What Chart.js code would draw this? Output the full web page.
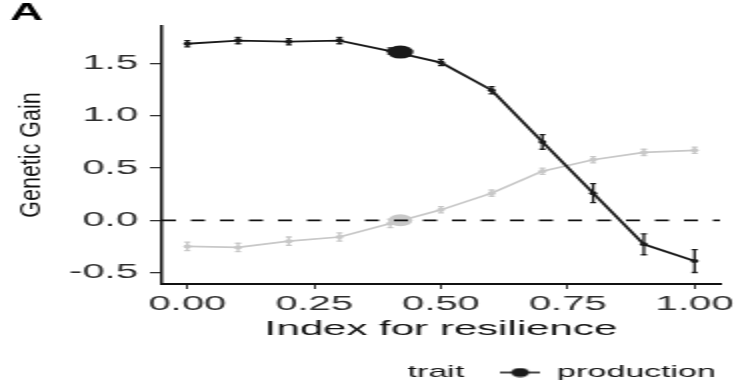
<!DOCTYPE html>
<html>
<head>
<meta charset="utf-8">
<script src="https://cdn.jsdelivr.net/npm/chart.js@4.4.1/dist/chart.umd.min.js"></script>
<style>
  html, body { margin: 0; padding: 0; background: #fff; overflow: hidden; }
  /* the plot is laid out narrow and widened 2x */
  #grafico { display: block; transform: scaleX(2); transform-origin: 0 0; }
</style>
</head>
<body>
<canvas id="grafico" width="376" height="391"></canvas>
<script>
// -------- DATA --------
const resilienceIndex = [0, 0.1, 0.2, 0.3, 0.4, 0.5, 0.6, 0.7, 0.8, 0.9, 1.0];

const productionGain = [1.69, 1.72, 1.71, 1.72, 1.62, 1.51, 1.245, 0.75, 0.26, -0.23, -0.39];
const productionSE   = [0.03, 0.03, 0.03, 0.03, 0.03, 0.03, 0.035, 0.07, 0.09, 0.10, 0.11];

const resilienceGain = [-0.25, -0.26, -0.20, -0.16, -0.03, 0.10, 0.26, 0.47, 0.58, 0.65, 0.67];
const resilienceSE   = [0.04, 0.04, 0.04, 0.04, 0.04, 0.03, 0.03, 0.03, 0.03, 0.03, 0.03];

// chosen index (big dots)
const optimumIndex = 0.42;
const optimumProduction = 1.61;
const optimumResilience = 0.0;

const xTicks = [0, 0.25, 0.5, 0.75, 1];
const yTicks = [-0.5, 0, 0.5, 1, 1.5];
const zeroLine = 0;

// -------- STYLE --------
const DARK = "#1a1a1a";
const GREY = "#c8c8c8";
const Y_TITLE_SIZE = 21.5;

Chart.defaults.font.family = "'Liberation Sans', Arial, sans-serif";

function toPoints(xs, ys) {
  return xs.map((x, i) => ({ x: x, y: ys[i] }));
}

// legend symbol: line with a dot
const legendIcon = document.createElement("canvas");
legendIcon.width = 20;
legendIcon.height = 10;
const ic = legendIcon.getContext("2d");
ic.strokeStyle = DARK;
ic.lineWidth = 1.6;
ic.beginPath();
ic.moveTo(0, 5);
ic.lineTo(20, 5);
ic.stroke();
ic.fillStyle = DARK;
ic.beginPath();
ic.arc(10, 5, 4.5, 0, Math.PI * 2);
ic.fill();

const blankIcon = document.createElement("canvas");
blankIcon.width = 1;
blankIcon.height = 1;

// -------- PLUGINS --------
// vertical error bars for datasets carrying an "errors" array
const errorBars = {
  id: "errorBars",
  afterDatasetDraw(chart, args) {
    const ds = chart.data.datasets[args.index];
    if (!ds.errors) return;
    const ctx = chart.ctx;
    const y = chart.scales.y;
    ctx.save();
    ctx.strokeStyle = ds.borderColor;
    ctx.lineWidth = 1.3;
    args.meta.data.forEach((pt, i) => {
      const v = ds.data[i].y;
      const e = ds.errors[i];
      const top = y.getPixelForValue(v + e);
      const bot = y.getPixelForValue(v - e);
      ctx.beginPath();
      ctx.moveTo(pt.x, top);
      ctx.lineTo(pt.x, bot);
      ctx.moveTo(pt.x - 1.5, top);
      ctx.lineTo(pt.x + 1.5, top);
      ctx.moveTo(pt.x - 1.5, bot);
      ctx.lineTo(pt.x + 1.5, bot);
      ctx.stroke();
    });
    ctx.restore();
  }
};

// dashed reference line at zero
const zeroLinePlugin = {
  id: "zeroLine",
  afterDatasetsDraw(chart) {
    const { ctx, chartArea } = chart;
    const py = chart.scales.y.getPixelForValue(zeroLine);
    ctx.save();
    ctx.strokeStyle = "#111";
    ctx.lineWidth = 1.7;
    ctx.setLineDash([7, 7.5]);
    ctx.beginPath();
    ctx.moveTo(chartArea.left, py);
    ctx.lineTo(chartArea.right, py);
    ctx.stroke();
    ctx.restore();
  }
};

// the y title is squeezed back before the page widens it, so it keeps near-normal proportions
const yTitleNarrow = {
  id: "yTitleNarrow",
  beforeDraw(chart) {
    const scale = chart.scales.y;
    if (scale._narrowTitle) return;
    const original = scale.drawTitle;
    scale.drawTitle = function () {
      const c = this.ctx;
      const cx = this.left + Y_TITLE_SIZE / 2;
      c.save();
      c.translate(cx, 0);
      c.scale(0.65, 1);
      c.translate(-cx, 0);
      original.call(this);
      c.restore();
    };
    scale._narrowTitle = true;
  }
};

// -------- CHART --------
const ctx = document.getElementById("grafico").getContext("2d");

new Chart(ctx, {
  type: "line",
  data: {
    datasets: [
      {
        label: "production (chosen)",
        data: [{ x: optimumIndex, y: optimumProduction }],
        showLine: false,
        pointRadius: 6.5,
        pointBackgroundColor: DARK,
        pointBorderWidth: 0,
        order: 0
      },
      {
        label: "resilience (chosen)",
        data: [{ x: optimumIndex, y: optimumResilience }],
        showLine: false,
        pointRadius: 6,
        pointBackgroundColor: GREY,
        pointBorderWidth: 0,
        order: 1
      },
      {
        label: "production",
        data: toPoints(resilienceIndex, productionGain),
        errors: productionSE,
        borderColor: DARK,
        backgroundColor: DARK,
        borderWidth: 1.8,
        pointRadius: 2,
        pointBorderWidth: 0,
        tension: 0,
        order: 2
      },
      {
        label: "resilience",
        data: toPoints(resilienceIndex, resilienceGain),
        errors: resilienceSE,
        borderColor: GREY,
        backgroundColor: GREY,
        borderWidth: 1.7,
        pointRadius: 2,
        pointBorderWidth: 0,
        tension: 0,
        order: 3
      }
    ]
  },
  options: {
    responsive: false,
    animation: false,
    events: [],
    layout: { padding: { left: 5, right: 0, top: 0, bottom: 0 } },
    scales: {
      x: {
        type: "linear",
        min: -0.05,
        max: 1.05,
        afterBuildTicks: (s) => { s.ticks = xTicks.map((v) => ({ value: v })); },
        afterFit: (s) => { s.height = 62; },
        grid: { display: true, drawOnChartArea: false, drawTicks: true, tickLength: 5, color: "#333", lineWidth: 1 },
        border: { display: true, color: "#111", width: 2 },
        ticks: {
          padding: 3,
          color: "#2e2e2e",
          font: { size: 20 },
          maxRotation: 0,
          autoSkip: false,
          callback: (v) => Number(v).toFixed(2)
        },
        title: {
          display: true,
          text: "Index for resilience",
          color: "#111",
          font: { size: 21 },
          padding: { top: 0, bottom: 4 }
        }
      },
      y: {
        type: "linear",
        position: "left",
        min: -0.61,
        max: 1.86,
        afterBuildTicks: (s) => { s.ticks = yTicks.map((v) => ({ value: v })); },
        afterFit: (s) => { s.width = 76; },
        grid: { display: true, drawOnChartArea: false, drawTicks: true, tickLength: 6, color: "#333", lineWidth: 1.3 },
        border: { display: true, color: "#111", width: 1.5 },
        ticks: {
          padding: 6,
          color: "#2e2e2e",
          font: { size: 20 },
          autoSkip: false,
          callback: (v) => Number(v).toFixed(1)
        },
        title: {
          display: true,
          text: "Genetic Gain",
          color: "#111",
          font: { size: Y_TITLE_SIZE, lineHeight: 1 },
          padding: 0
        }
      },
      pad: {
        type: "linear",
        position: "right",
        display: true,
        grid: { display: false },
        border: { display: false },
        ticks: { display: false },
        afterFit: (s) => { s.width = 16; }
      }
    },
    plugins: {
      tooltip: { enabled: false },
      title: {
        display: true,
        text: "A",
        align: "start",
        color: "#000",
        font: { size: 23, weight: "bold", lineHeight: 1 },
        padding: { top: 2, bottom: 1 }
      },
      legend: {
        position: "bottom",
        align: "end",
        labels: {
          usePointStyle: true,
          pointStyleWidth: 20,
          padding: 18,
          color: "#111",
          font: { size: 17 },
          generateLabels: () => [
            { text: "trait", pointStyle: blankIcon, fillStyle: "transparent", strokeStyle: "transparent", lineWidth: 0, hidden: false, fontColor: "#111" },
            { text: "production", pointStyle: legendIcon, fillStyle: DARK, strokeStyle: DARK, lineWidth: 0, hidden: false, fontColor: "#111" }
          ]
        }
      }
    }
  },
  plugins: [errorBars, zeroLinePlugin, yTitleNarrow]
});
</script>
</body>
</html>
